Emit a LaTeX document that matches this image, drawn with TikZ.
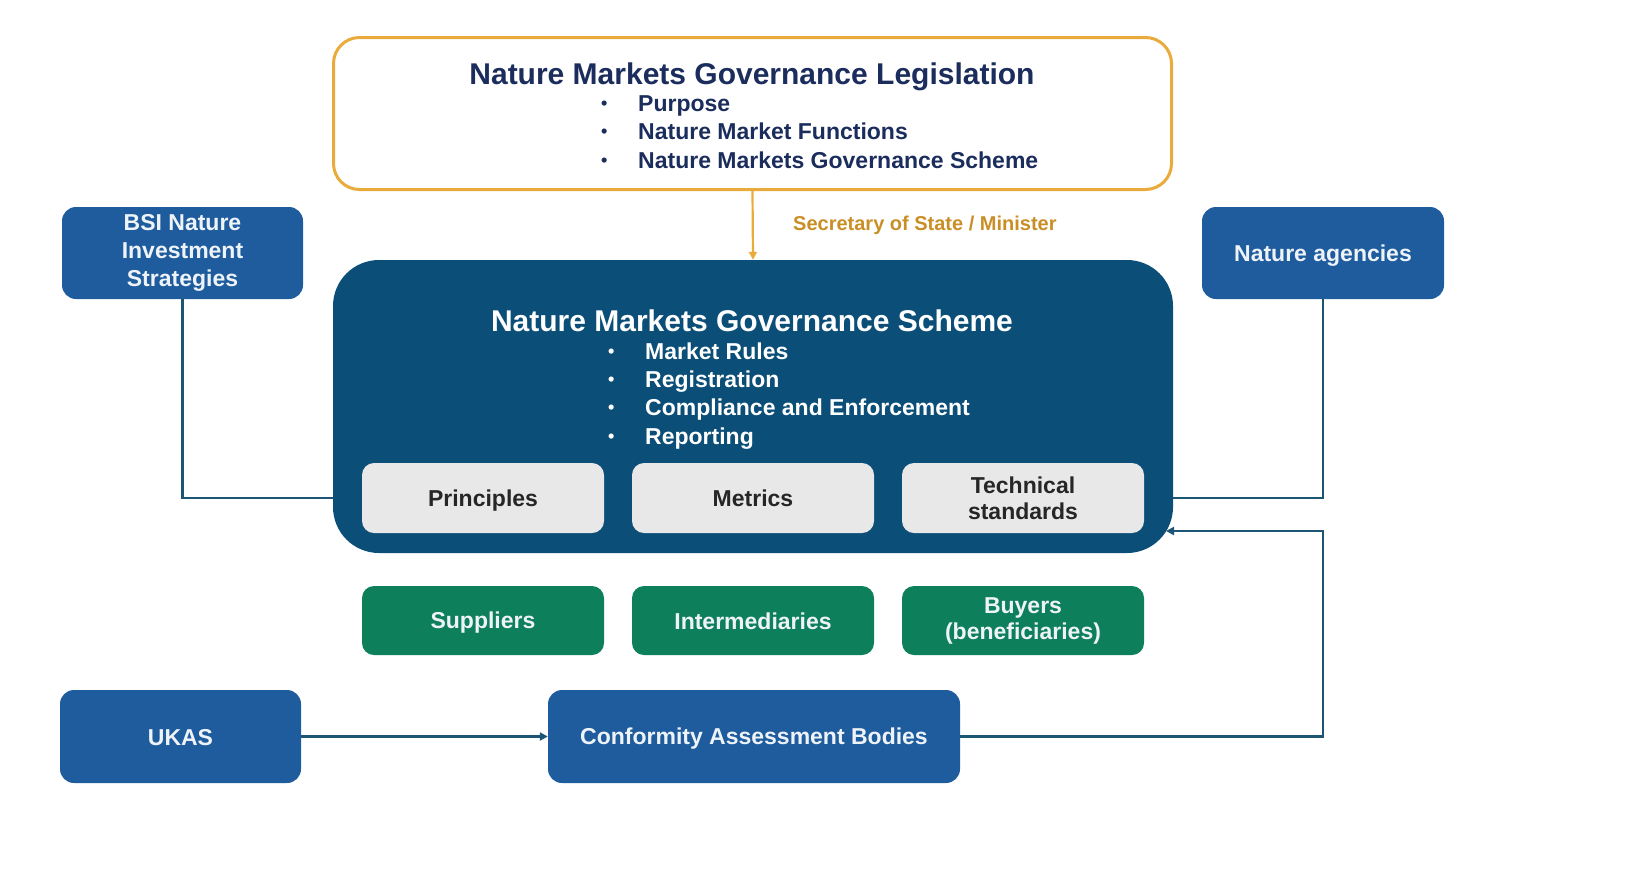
\documentclass[tikz,border=0pt]{standalone}
\usepackage{fontspec}
\setmainfont{Liberation Sans}
\usetikzlibrary{arrows.meta,positioning}
\definecolor{navy}{HTML}{1B2D5C}
\definecolor{orangeb}{HTML}{E9AC3C}
\definecolor{orangetxt}{HTML}{C98E25}
\definecolor{darkblue}{HTML}{0B4E78}
\definecolor{midblue}{HTML}{1E5C9E}
\definecolor{greyfill}{HTML}{E8E8E8}
\definecolor{greenfill}{HTML}{0D7F5B}
\definecolor{linecol}{HTML}{1D5674}
\definecolor{lighttxt}{HTML}{EEF3F8}
\newcommand{\fs}[2]{\fontsize{#1pt}{#2pt}\selectfont}
\newcommand{\sst}{\rule[-4.5pt]{0pt}{26pt}}
\tikzset{
  x=1pt,y=-1pt,
  every node/.style={inner sep=0pt,font=\bfseries},
  bluebox/.style={fill=midblue,rounded corners=14pt,text=lighttxt,align=center,font=\bfseries\fs{23}{28}},
  greybox/.style={fill=greyfill,rounded corners=12pt,text=black!85,align=center,font=\bfseries\fs{23}{26},minimum width=242pt,minimum height=70pt},
  greenbox/.style={fill=greenfill,rounded corners=12pt,text=lighttxt,align=center,font=\bfseries\fs{23}{26},minimum width=242pt,minimum height=69pt},
  conn/.style={draw=linecol,line width=2.2pt},
  topbullet/.style={text=navy,anchor=base west,font=\bfseries\fs{23}{28}},
  topdot/.style={text=navy,anchor=base west,font=\bfseries\fs{18}{22}},
  mainbullet/.style={text=white,anchor=base west,font=\bfseries\fs{23}{28}},
  maindot/.style={text=white,anchor=base west,font=\bfseries\fs{18}{22}},
}
\begin{document}
\begin{tikzpicture}
\useasboundingbox (0,0) rectangle (1646,884);
% top legislation box
\node[draw=orangeb,line width=3pt,fill=white,rounded corners=26pt,minimum width=838pt,minimum height=152pt] (legis) at (752.5,113.5) {};
\node[text=navy,font=\bfseries\fs{30}{36}] (legtitle) at (752,76.5) {Nature Markets Governance Legislation};
\node[topdot] (lb1) at (601,109.5) {•};
\node[topbullet] (l1) at (638,111) {Purpose};
\node[topdot] (lb2) at (601,137.5) {•};
\node[topbullet] (l2) at (638,139) {Nature Market Functions};
\node[topdot] (lb3) at (601,166.5) {•};
\node[topbullet] (l3) at (638,168) {Nature Markets Governance Scheme};
% main scheme box
\node[fill=darkblue,rounded corners=46pt,minimum width=840pt,minimum height=293pt] (scheme) at (753,406.5) {};
\node[text=white,font=\bfseries\fs{30}{36}] (schtitle) at (752,320.5) {Nature Markets Governance Scheme};
\node[maindot] (sb1) at (608,357.5) {•};
\node[mainbullet] (s1) at (645,359) {Market Rules};
\node[maindot] (sb2) at (608,385.5) {•};
\node[mainbullet] (s2) at (645,387) {Registration};
\node[maindot] (sb3) at (608,413.5) {•};
\node[mainbullet] (s3) at (645,415) {Compliance and Enforcement};
\node[maindot] (sb4) at (608,442.5) {•};
\node[mainbullet] (s4) at (645,444) {Reporting};
% grey boxes
\node[greybox] (princ) at (483,498) {\sst Principles};
\node[greybox] (metr) at (753,498) {\sst Metrics};
\node[greybox] (tech) at (1023,498) {Technical\\standards};
% green boxes
\node[greenbox] (supp) at (483,620.5) {\sst Suppliers};
\node[greenbox] (inter) at (753,620.5) {\sst Intermediaries};
\node[greenbox] (buy) at (1023,620.5) {Buyers\\(beneficiaries)};
% side blue boxes
\node[bluebox,minimum width=241pt,minimum height=92pt] (bsi) at (182.5,253) {BSI Nature\\Investment\\Strategies};
\node[bluebox,minimum width=242pt,minimum height=92pt] (agen) at (1323,253) {\sst Nature agencies};
\node[bluebox,minimum width=241pt,minimum height=93pt] (ukas) at (180.5,736.5) {\sst UKAS};
\node[bluebox,minimum width=412pt,minimum height=93pt] (cab) at (754,736.5) {\sst Conformity Assessment Bodies};
% label
\node[text=orangetxt,font=\bfseries\fs{20}{24},anchor=west] (sos) at (793,225) {Secretary of State / Minister};
% connectors
\draw[draw=orangeb,line width=2.2pt,-{Triangle[length=8pt,width=8pt]}] (legis.south) -- (scheme.north);
\coordinate (bsiturn) at (bsi.south |- princ.center);
\draw[conn] (bsi.south) -- (bsiturn) -- (scheme.west |- princ.center);
\coordinate (agturn) at (agen.south |- tech.center);
\draw[conn] (agen.south) -- (agturn) -- (scheme.east |- tech.center);
\coordinate (cabturn1) at (agen.south |- cab.east);
\coordinate (cabturn2) at (1323,531);
\coordinate (cabend) at (1166,531);
\draw[conn,-{Triangle[length=8pt,width=8pt]}] (cab.east) -- (cabturn1) -- (cabturn2) -- (cabend);
\draw[conn,-{Triangle[length=8pt,width=8pt]}] (ukas.east) -- (cab.west);
\end{tikzpicture}
\end{document}
